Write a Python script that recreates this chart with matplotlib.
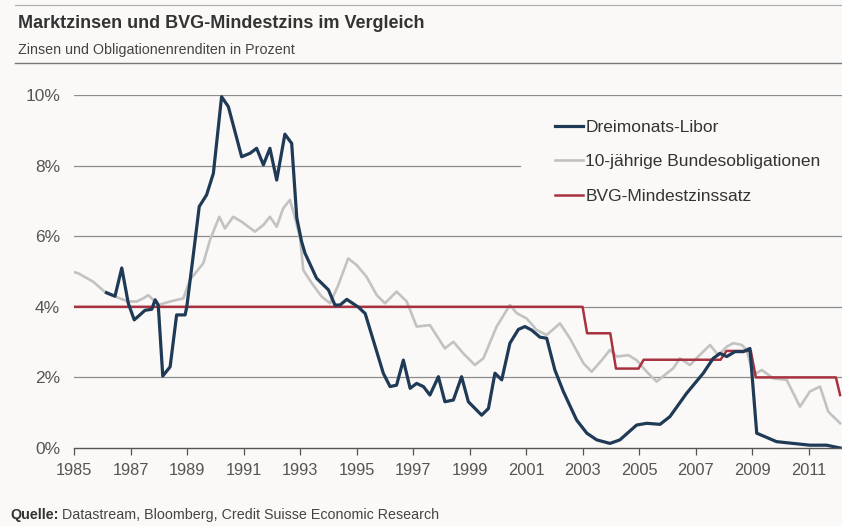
import matplotlib
matplotlib.use("Agg")
import matplotlib.pyplot as plt
from matplotlib.lines import Line2D

plt.rcParams['font.family'] = ['Liberation Sans', 'DejaVu Sans']

# ---- data ----
libor_years = [1986.15, 1986.45, 1986.69, 1986.92, 1987.13, 1987.33, 1987.51, 1987.75, 1987.87, 1987.98,
               1988.14, 1988.4, 1988.63, 1988.93, 1988.99, 1989.22, 1989.43, 1989.69, 1989.93, 1990.22,
               1990.46, 1990.93, 1991.23, 1991.46, 1991.7, 1991.93, 1992.17, 1992.46, 1992.7, 1992.88,
               1993.05, 1993.17, 1993.58, 1994.0, 1994.23, 1994.41, 1994.65, 1995.06, 1995.3, 1995.94,
               1996.18, 1996.41, 1996.65, 1996.89, 1997.12, 1997.36, 1997.59, 1997.89, 1998.12, 1998.42,
               1998.71, 1998.95, 1999.42, 1999.66, 1999.89, 2000.13, 2000.42, 2000.72, 2000.95, 2001.19,
               2001.48, 2001.72, 2002.01, 2002.31, 2002.78, 2003.14, 2003.49, 2003.96, 2004.31, 2004.9,
               2005.26, 2005.73, 2006.08, 2006.67, 2007.26, 2007.61, 2007.85, 2008.09, 2008.38, 2008.68,
               2008.91, 2009.15, 2009.85, 2010.44, 2011.03, 2011.62, 2012.1]
libor_values = [4.4, 4.3, 5.1, 4.1, 3.63, 3.77, 3.9, 3.93, 4.2, 4.05,
                2.04, 2.3, 3.77, 3.77, 4.0, 5.47, 6.84, 7.17, 7.78, 9.95,
                9.67, 8.25, 8.35, 8.49, 8.02, 8.49, 7.59, 8.89, 8.63, 6.52,
                5.85, 5.52, 4.81, 4.48, 4.05, 4.05, 4.21, 3.99, 3.81, 2.12,
                1.74, 1.78, 2.49, 1.69, 1.83, 1.74, 1.5, 2.02, 1.31, 1.36,
                2.02, 1.31, 0.93, 1.12, 2.12, 1.93, 2.97, 3.36, 3.44, 3.34,
                3.14, 3.11, 2.21, 1.6, 0.79, 0.42, 0.23, 0.13, 0.23, 0.65,
                0.7, 0.67, 0.89, 1.55, 2.12, 2.54, 2.68, 2.59, 2.73, 2.73,
                2.82, 0.42, 0.18, 0.13, 0.08, 0.08, 0.0]

bund_years = [1985.0, 1985.15, 1985.68, 1986.15, 1986.45, 1986.92, 1987.22, 1987.45, 1987.63, 1987.81,
              1987.98, 1988.4, 1988.87, 1989.1, 1989.57, 1989.81, 1990.14, 1990.34, 1990.63, 1990.93,
              1991.4, 1991.7, 1991.93, 1992.17, 1992.4, 1992.64, 1992.82, 1993.0, 1993.11, 1993.41,
              1993.76, 1994.06, 1994.35, 1994.7, 1995.0, 1995.35, 1995.71, 1996.0, 1996.41, 1996.77,
              1997.12, 1997.59, 1998.12, 1998.42, 1998.77, 1999.18, 1999.48, 1999.95, 2000.42, 2000.66,
              2001.01, 2001.37, 2001.72, 2002.19, 2002.54, 2003.02, 2003.31, 2003.67, 2003.96, 2004.2,
              2004.61, 2004.9, 2005.26, 2005.61, 2005.9, 2006.2, 2006.43, 2006.79, 2007.08, 2007.5,
              2007.79, 2008.09, 2008.32, 2008.62, 2008.79, 2009.03, 2009.33, 2009.74, 2010.21, 2010.68,
              2011.03, 2011.39, 2011.68, 2012.1]
bund_values = [4.98, 4.95, 4.71, 4.38, 4.29, 4.15, 4.15, 4.24, 4.33, 4.19,
               4.05, 4.15, 4.24, 4.76, 5.23, 5.89, 6.55, 6.22, 6.55, 6.41,
               6.13, 6.32, 6.55, 6.27, 6.79, 7.03, 6.51, 5.94, 5.04, 4.67,
               4.29, 4.1, 4.62, 5.37, 5.18, 4.85, 4.33, 4.1, 4.43, 4.15,
               3.44, 3.48, 2.82, 3.01, 2.68, 2.35, 2.54, 3.44, 4.05, 3.82,
               3.67, 3.34, 3.2, 3.53, 3.11, 2.4, 2.16, 2.49, 2.78, 2.59,
               2.63, 2.49, 2.16, 1.88, 2.07, 2.26, 2.54, 2.35, 2.59, 2.92,
               2.63, 2.87, 2.97, 2.92, 2.78, 2.07, 2.21, 1.97, 1.93, 1.17,
               1.6, 1.74, 1.03, 0.7]

bvg_years = [1985.0, 2002.99, 2003.15, 2003.97, 2004.17, 2004.97, 2005.15, 2007.87, 2008.08,
             2008.94, 2009.12, 2011.95, 2012.1]
bvg_values = [4.0, 4.0, 3.25, 3.25, 2.25, 2.25, 2.5, 2.5, 2.75, 2.75, 2.0, 2.0, 1.5]

series_labels = ["Dreimonats-Libor", "10-jährige Bundesobligationen", "BVG-Mindestzinssatz"]
xtick_years = list(range(1985, 2012, 2))
ytick_values = [0, 2, 4, 6, 8, 10]

title = "Marktzinsen und BVG-Mindestzins im Vergleich"
subtitle = "Zinsen und Obligationenrenditen in Prozent"
source_bold = "Quelle:"
source_rest = " Datastream, Bloomberg, Credit Suisse Economic Research"

# ---- style ----
W, H = 842, 526
BG = "#fbf9f7"
C_LIBOR = "#1f3a56"
C_BUND = "#c2c2c2"
C_BVG = "#a8323f"

fig = plt.figure(figsize=(W / 100, H / 100), dpi=100, facecolor=BG)
ax = fig.add_axes([74 / W, (H - 448) / H, (W - 74) / W, (448 - 95) / H])
ax.set_facecolor(BG)

x_left = 1985.0
x_right = 1985.0 + (W - 74) / 28.27
ax.set_xlim(x_left, x_right)
ax.set_ylim(0, 10)

# gridlines (8% line hidden behind legend area)
for v in ytick_values[1:]:
    xmax = 1.0
    if v == 8:
        xmax = (520 - 74) / (W - 74)
    ax.axhline(v, xmin=0, xmax=xmax, color="#8c8c8c", lw=0.9, zorder=1)

ax.plot(bund_years, bund_values, color=C_BUND, lw=1.9, zorder=3, solid_joinstyle="round")
ax.plot(bvg_years, bvg_values, color=C_BVG, lw=1.8, zorder=4)
ax.plot(libor_years, libor_values, color=C_LIBOR, lw=2.3, zorder=5, solid_joinstyle="round")

for s in ["top", "right", "left"]:
    ax.spines[s].set_visible(False)
ax.spines["bottom"].set_color("#555555")
ax.spines["bottom"].set_linewidth(1.0)
ax.spines["bottom"].set_zorder(6)

ax.set_xticks(xtick_years)
ax.set_xticklabels([str(y) for y in xtick_years], fontsize=11.8, color="#555555")
ax.tick_params(axis="x", direction="out", length=5, width=0.9, color="#555555", pad=6)
ax.set_yticks(ytick_values)
ax.set_yticklabels([f"{v}%" for v in ytick_values], fontsize=12.5, color="#555555")
ax.tick_params(axis="y", length=0, pad=10)

handles = [Line2D([], [], color=C_LIBOR, lw=2.3),
           Line2D([], [], color=C_BUND, lw=1.9),
           Line2D([], [], color=C_BVG, lw=1.8)]
leg = ax.legend(handles, series_labels, loc="upper left",
                bbox_to_anchor=(555 / W, 1 - 120 / H), bbox_transform=fig.transFigure,
                frameon=False, fontsize=12.5, handlelength=1.6, handletextpad=0.15,
                labelspacing=1.1, borderpad=0, borderaxespad=0)
for t in leg.get_texts():
    t.set_color("#333333")

# header / footer
fig.text(18 / W, 1 - 28 / H, title, fontsize=13, fontweight="bold", color="#333333", va="baseline")
fig.text(18 / W, 1 - 54 / H, subtitle, fontsize=10.3, color="#444444", va="baseline")
fig.add_artist(Line2D([15 / W, 1], [1 - 5 / H, 1 - 5 / H], color="#aaaaaa", lw=0.8))
fig.add_artist(Line2D([15 / W, 1], [1 - 63 / H, 1 - 63 / H], color="#777777", lw=1.0))

tq = fig.text(10 / W, 1 - 519 / H, source_bold, fontsize=10.3, fontweight="bold", color="#333333", va="baseline")
fig.canvas.draw()
bb = tq.get_window_extent(renderer=fig.canvas.get_renderer())
fig.text(bb.x1 / W, 1 - 519 / H, source_rest, fontsize=10.3, color="#444444", va="baseline")

fig.savefig("out.png", dpi=100, facecolor=BG)
